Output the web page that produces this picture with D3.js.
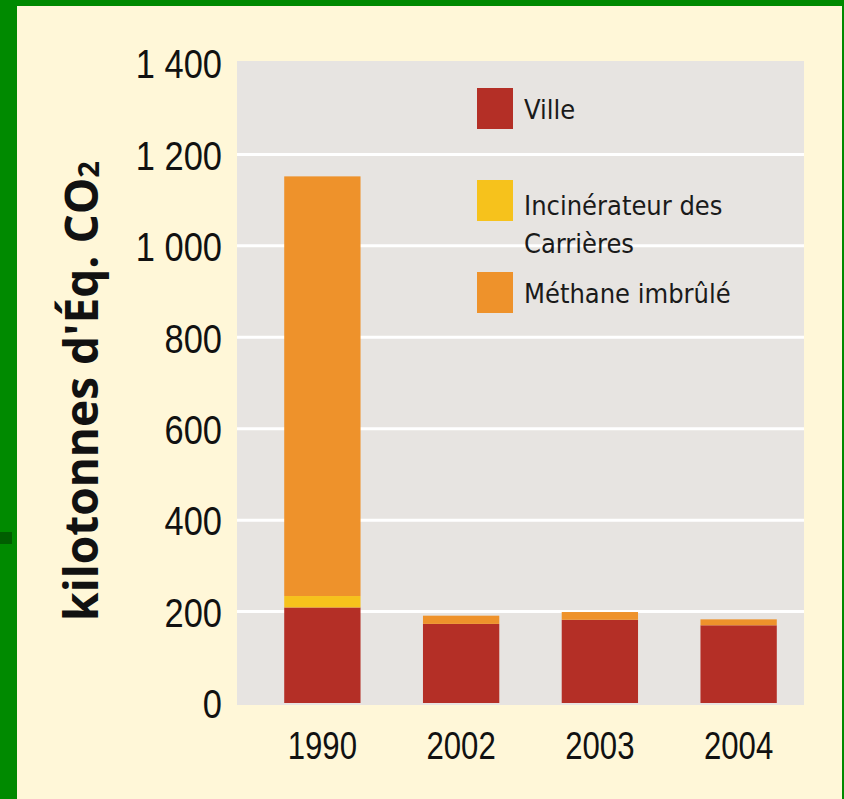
<!DOCTYPE html>
<html>
<head>
<meta charset="utf-8">
<script src="https://cdn.jsdelivr.net/npm/d3@7"></script>
<style>
  html, body { margin: 0; padding: 0; background: #008a00; }
  svg { display: block; }
</style>
</head>
<body>
<svg id="chart" width="844" height="799"></svg>
<script>
var years = ["1990", "2002", "2003", "2004"];
var seriesNames = ["Ville", "Incinérateur des Carrières", "Méthane imbrûlé"];
var ville = [209, 173, 182, 170];
var incinerateur = [25, 0, 0, 0];
var methane = [918, 18, 17, 13];
var yTicks = [0, 200, 400, 600, 800, 1000, 1200, 1400];

var colors = ["#b42f26", "#f6c21c", "#ee922b"];

document.addEventListener('DOMContentLoaded', main);

function main() {
    var svg = d3.select("#chart");

    // green frame + cream page
    svg.append("rect").attr("x", 0).attr("y", 0).attr("width", 844).attr("height", 799).attr("fill", "#008a00");
    svg.append("rect").attr("x", 17).attr("y", 6).attr("width", 825).attr("height", 793).attr("fill", "#fff7d8");
    svg.append("rect").attr("x", 0).attr("y", 532).attr("width", 12).attr("height", 12).attr("fill", "#005e00");

    var y = d3.scaleLinear().domain([0, 1400]).range([703, 63]);
    var x = d3.scaleBand().domain(years).range([253, 808]).paddingInner(0.45).paddingOuter(0.225);

    var fr = d3.formatLocale({decimal: ",", thousands: " ", grouping: [3], currency: ["", ""]});
    var fmt = fr.format(",d");
    var numFont = "'Liberation Sans', 'Arial', sans-serif";

    // plot background
    svg.append("rect")
        .attr("x", 237).attr("y", y(1400) - 2)
        .attr("width", 567).attr("height", y(0) - y(1400) + 4)
        .attr("fill", "#e7e4e1");

    svg.selectAll(".grid")
        .data(yTicks.filter(function (d) { return d > 0 && d < 1400; }))
        .enter().append("line")
        .attr("class", "grid")
        .attr("x1", 237).attr("x2", 804)
        .attr("y1", function (d) { return y(d); })
        .attr("y2", function (d) { return y(d); })
        .attr("stroke", "#ffffff")
        .attr("stroke-width", 3);

    // y axis labels (condensed digits)
    var yAxis = d3.axisLeft(y).tickValues(yTicks).tickFormat(fmt).tickSize(0).tickPadding(0);
    var gy = svg.append("g").attr("transform", "translate(222,0)").call(yAxis);
    gy.select(".domain").remove();
    gy.selectAll("text")
        .attr("font-family", numFont)
        .attr("font-size", 41)
        .attr("fill", "#111")
        .attr("dy", "0.36em")
        .attr("transform", "scale(0.84,1)");

    // x axis labels
    var xAxis = d3.axisBottom(x).tickSize(0).tickPadding(0);
    var gx = svg.append("g").attr("transform", "translate(0,732)").call(xAxis);
    gx.select(".domain").remove();
    gx.selectAll("text")
        .attr("font-family", numFont)
        .attr("font-size", 38)
        .attr("fill", "#111")
        .attr("dy", "0.72em")
        .attr("transform", "scale(0.82,1)");

    // stacked bars
    var rows = years.map(function (yr, i) {
        return {year: yr, v0: ville[i], v1: incinerateur[i], v2: methane[i]};
    });
    var stack = d3.stack().keys(["v0", "v1", "v2"]);
    var layers = stack(rows);

    svg.selectAll(".layer")
        .data(layers)
        .enter().append("g")
        .attr("class", "layer")
        .attr("fill", function (d, i) { return colors[i]; })
        .selectAll("rect")
        .data(function (d) { return d; })
        .enter().append("rect")
        .attr("x", function (d) { return x(d.data.year); })
        .attr("width", x.bandwidth())
        .attr("y", function (d) { return y(d[1]); })
        .attr("height", function (d) { return y(d[0]) - y(d[1]); });

    // legend
    var legendFont = "'DejaVu Sans Condensed', 'DejaVu Sans', sans-serif";
    var legendItems = [
        {lines: ["Ville"], top: 88, base: 119},
        {lines: ["Incinérateur des", "Carrières"], top: 180, base: 215},
        {lines: ["Méthane imbrûlé"], top: 272, base: 303}
    ];
    var lg = svg.append("g");
    legendItems.forEach(function (item, i) {
        lg.append("rect")
            .attr("x", 477).attr("y", item.top)
            .attr("width", 36).attr("height", 41)
            .attr("fill", colors[i]);
        var t = lg.append("text")
            .attr("x", 524).attr("y", item.base)
            .attr("font-family", legendFont)
            .attr("font-size", 27)
            .attr("fill", "#1a1a1a");
        item.lines.forEach(function (ln, j) {
            t.append("tspan").attr("x", 524).attr("dy", j === 0 ? 0 : 38).text(ln);
        });
    });

    // y title
    var title = svg.append("text")
        .attr("transform", "translate(98,391) rotate(-90)")
        .attr("text-anchor", "middle")
        .attr("font-family", "'Open Sans', sans-serif")
        .attr("font-weight", "bold")
        .attr("font-size", 46)
        .attr("fill", "#111");
    title.append("tspan").text("kilotonnes d'Éq. CO");
    title.append("tspan").attr("font-size", 29).attr("dy", "0.05em").text("2");
}
</script>
</body>
</html>
